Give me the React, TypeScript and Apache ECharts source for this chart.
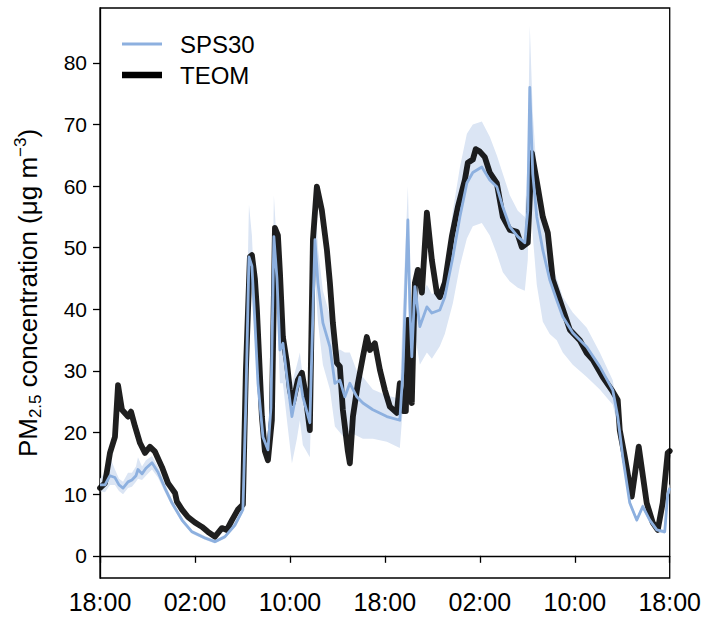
import React, { useEffect, useRef } from "react";
import * as echarts from "echarts";

// Hours since 18:00 on day 1 (x axis spans 48 h)
const teomHours = [0, 0.42, 0.84, 1.26, 1.52, 1.85, 2.36, 2.61, 2.95, 3.37, 3.79, 4.21, 4.63, 5.22, 5.73, 6.32, 6.48, 6.91, 7.41, 8.0, 8.59, 9.09, 9.68, 10.27, 10.69, 11.12, 11.62, 12.04, 12.29, 12.63, 12.8, 13.05, 13.22, 13.64, 13.89, 14.15, 14.48, 14.74, 14.99, 15.16, 15.41, 15.75, 16.0, 16.25, 16.67, 17.01, 17.26, 17.68, 17.94, 18.27, 18.69, 19.12, 19.37, 19.62, 19.96, 20.21, 20.46, 20.88, 21.05, 21.31, 21.73, 22.15, 22.48, 22.74, 23.16, 23.58, 24.0, 24.42, 25.01, 25.26, 25.52, 25.77, 25.94, 26.27, 26.53, 26.78, 27.12, 27.54, 27.96, 28.38, 28.63, 29.05, 29.64, 30.15, 30.74, 30.99, 31.41, 31.66, 32.0, 32.42, 32.84, 33.43, 33.94, 34.53, 35.12, 35.54, 36.04, 36.38, 36.88, 37.31, 37.73, 38.15, 38.74, 39.58, 40.42, 41.01, 41.52, 42.36, 43.12, 43.62, 43.79, 44.21, 44.8, 45.39, 46.06, 46.57, 46.99, 47.41, 47.83, 48];
const teomValues = [11, 11.8, 16.7, 19.3, 27.7, 23.7, 22.6, 23.4, 21, 18.3, 16.7, 17.7, 16.9, 14.4, 11.8, 10.2, 8.8, 7.5, 6.3, 5.4, 4.7, 3.9, 3.1, 4.5, 4.2, 5.8, 7.5, 8.3, 30, 48.5, 48.8, 45, 40, 22.6, 17, 15.5, 22, 53.2, 52, 46, 35.5, 31.3, 26.9, 24.8, 28.5, 29.7, 26.9, 20.4, 51.3, 59.9, 56.1, 49.6, 44.3, 37.8, 31.3, 30.7, 23.7, 17, 15, 22.6, 28, 32.3, 35.5, 33.4, 34.5, 30.2, 26.9, 24.2, 23.2, 28, 23.5, 23.5, 38.3, 24.8, 44.3, 46.4, 42.7, 55.7, 48, 42.7, 42, 44.3, 51.8, 56.6, 61, 63.8, 64.3, 66, 65.6, 64.7, 62.2, 60.5, 55, 52.9, 52.6, 50.1, 50.8, 65.4, 59.9, 55, 52.4, 44.8, 41.5, 36.7, 35, 32.9, 31.8, 29, 26.9, 25.3, 20.4, 16.1, 9.6, 17.7, 8.6, 5.4, 4.2, 8.6, 16.7, 17];

const spsHours = [0, 0.42, 0.84, 1.26, 1.6, 1.94, 2.36, 2.69, 3.03, 3.2, 3.54, 3.87, 4.38, 4.88, 5.47, 6.06, 6.91, 7.75, 8.84, 9.68, 10.53, 11.37, 12.04, 12.29, 12.55, 12.8, 13.05, 13.31, 13.73, 14.15, 14.4, 14.65, 14.91, 15.16, 15.41, 15.75, 16.17, 16.59, 16.84, 17.09, 17.68, 18.11, 18.36, 18.78, 19.37, 19.79, 20.21, 20.63, 21.05, 21.64, 22.15, 22.99, 24.17, 25.26, 25.52, 25.77, 25.94, 26.11, 26.27, 26.53, 26.95, 27.54, 27.96, 28.63, 29.05, 29.73, 30.32, 30.91, 31.41, 32.17, 32.84, 33.43, 33.94, 34.53, 35.2, 35.79, 36.04, 36.21, 36.46, 36.8, 37.31, 37.89, 38.48, 38.99, 39.83, 41.01, 42.11, 43.2, 43.62, 44.04, 44.63, 45.22, 45.73, 46.32, 46.91, 47.58, 47.83, 48];
const spsValues = [11.5, 11.5, 13, 12.7, 11.5, 11, 12, 12.3, 13, 14, 13.3, 14.2, 15.1, 13.6, 11, 8.6, 5.8, 3.9, 2.9, 2.3, 3.1, 5, 7.5, 25, 48.5, 47, 38, 28, 19.3, 17.2, 24, 51.8, 45, 33.4, 34.5, 29, 22.6, 26.9, 29, 25.8, 21.6, 51.3, 44.3, 37.8, 33.9, 28, 28.5, 25.8, 28, 25.8, 24.8, 23.7, 22.6, 22, 30, 44.3, 54.5, 40, 32.3, 43.7, 37.2, 40.4, 39.4, 39.9, 42, 48.5, 55, 60.5, 62.2, 63.1, 61, 59.9, 56.6, 53.4, 51.8, 50.8, 56, 76, 62, 55, 49.6, 44.8, 41.5, 38.8, 36.2, 33.9, 30.7, 26.9, 22.6, 16.1, 8.6, 5.8, 8, 5.8, 4.2, 3.9, 10, 11];
const spsLower = [10.5, 10.3, 11.5, 11.5, 10.5, 10, 11, 11.2, 12, 12.5, 12.3, 13, 14, 12.7, 10.3, 8.1, 5.4, 3.6, 2.6, 2.0, 2.8, 4.6, 7, 20, 44, 44, 35, 25, 17.5, 15.5, 20, 46, 40, 28, 28, 22, 15, 19, 22, 18, 16, 45, 38, 31, 27, 21, 20, 19, 20, 19.5, 19, 19, 18.5, 17.5, 24, 38, 48, 32, 26, 36, 31, 33, 32, 34, 36, 41, 47, 51.5, 53.5, 54, 52, 49, 46, 44.5, 43.5, 43, 48, 62, 52, 44, 38, 36, 35, 33, 31, 29, 27, 24.5, 21, 15.3, 8.1, 5.4, 7.5, 5.4, 3.9, 3.6, 9.3, 10.3];
const spsUpper = [12.5, 13.5, 16, 14, 12.5, 12, 13.5, 13.5, 14.5, 16, 14.5, 15.5, 16.2, 14.5, 11.7, 9.1, 6.2, 4.2, 3.2, 2.6, 3.4, 5.4, 8, 32, 57, 52, 41, 31, 21, 18.5, 28, 58.5, 50, 38, 39, 33, 28, 31, 33, 29, 25, 60, 50, 43, 39, 33, 33.5, 33, 33, 30, 29, 27, 26, 25.5, 40, 52, 60, 46, 38, 47, 42, 44, 42.5, 43, 46, 56, 63, 68.5, 70, 70.5, 68, 65, 62, 58.5, 56, 55, 65, 86, 72, 62, 55, 48, 45, 42, 39.5, 37, 33, 28.5, 24, 16.9, 9.1, 6.2, 8.5, 6.2, 4.5, 4.2, 10.7, 11.7];

const xTickLabels = ["18:00", "02:00", "10:00", "18:00", "02:00", "10:00", "18:00"];
const yTickValues = [0, 10, 20, 30, 40, 50, 60, 70, 80];

const FONT = "'Liberation Sans', Arial, Helvetica, sans-serif";

export default function App() {
  const ref = useRef<HTMLDivElement>(null);
  useEffect(() => {
    if (!ref.current) return;
    document.body.style.margin = "0";
    const chart = echarts.init(ref.current, null, { renderer: "svg" });
    const teom = teomHours.map((h, i) => [h, teomValues[i]]);
    const sps = spsHours.map((h, i) => [h, spsValues[i]]);
    chart.setOption({
      animation: false,
      textStyle: { fontFamily: FONT },
      grid: {
        left: 100,
        right: 34,
        top: 8,
        bottom: 44,
        show: true,
        borderColor: "#000",
        borderWidth: 1.3,
        containLabel: false,
      },
      legend: {
        data: [
          { name: "SPS30", icon: "path://M0,0h40v3h-40z" },
          { name: "TEOM", icon: "path://M0,0h40v6.5h-40z" },
        ],
        orient: "vertical",
        left: 122,
        top: 32,
        padding: 0,
        itemWidth: 40,
        itemHeight: 16,
        itemGap: 7,
        textStyle: { fontSize: 24, lineHeight: 24, color: "#000", fontFamily: FONT, padding: [0, 0, 0, 13] },
      },
      xAxis: {
        type: "value",
        min: 0,
        max: 48,
        interval: 8,
        axisLine: { show: true, lineStyle: { color: "#000", width: 1.3 } },
        axisTick: { show: true, length: 7, lineStyle: { color: "#000", width: 1.3 } },
        splitLine: { show: false },
        axisLabel: {
          color: "#000",
          fontSize: 25,
          fontFamily: FONT,
          margin: 11,
          formatter: (v: number) => xTickLabels[Math.round(v / 8)] ?? "",
        },
      },
      yAxis: {
        type: "value",
        min: -3.6,
        max: 88.9,
        axisLine: { show: true, lineStyle: { color: "#000", width: 1.3 } },
        axisTick: { show: true, length: 7, customValues: yTickValues, lineStyle: { color: "#000", width: 1.3 } },
        splitLine: { show: false },
        axisLabel: {
          color: "#000",
          fontSize: 21,
          fontFamily: FONT,
          margin: 13,
          customValues: yTickValues,
        },
        name: "{a|PM}{b|2.5}{a| concentration (μg m}{c|−3}{a|)}",
        nameLocation: "middle",
        nameRotate: 90,
        nameGap: 56,
        nameTextStyle: {
          color: "#000",
          fontSize: 26,
          fontFamily: FONT,
          rich: {
            a: { fontSize: 26, lineHeight: 32, color: "#000", fontFamily: FONT },
            b: { fontSize: 17, lineHeight: 17, verticalAlign: "bottom", color: "#000", fontFamily: FONT },
            c: { fontSize: 17, lineHeight: 17, verticalAlign: "top", color: "#000", fontFamily: FONT },
          },
        },
      },
      series: [
        {
          name: "band",
          type: "custom",
          silent: true,
          clip: true,
          z: 1,
          data: [[0, 0]],
          renderItem: (_params: any, api: any) => {
            const pts: number[][] = [];
            for (let i = 0; i < spsHours.length; i++) pts.push(api.coord([spsHours[i], spsUpper[i]]));
            for (let i = spsHours.length - 1; i >= 0; i--) pts.push(api.coord([spsHours[i], spsLower[i]]));
            return { type: "polygon", shape: { points: pts }, style: { fill: "#dbe5f4" } };
          },
        },
        {
          name: "TEOM",
          type: "line",
          data: teom,
          symbol: "none",
          z: 2,
          color: "#000",
          lineStyle: { color: "rgba(0,0,0,0.88)", width: 5.8, join: "round", cap: "round" },
        },
        {
          name: "SPS30",
          type: "line",
          data: sps,
          symbol: "none",
          z: 3,
          color: "#8db0df",
          lineStyle: { color: "#8db0df", width: 2.8, join: "round" },
        },
      ],
    });
    return () => chart.dispose();
  }, []);
  return <div ref={ref} style={{ width: 704, height: 622 }} />;
}
